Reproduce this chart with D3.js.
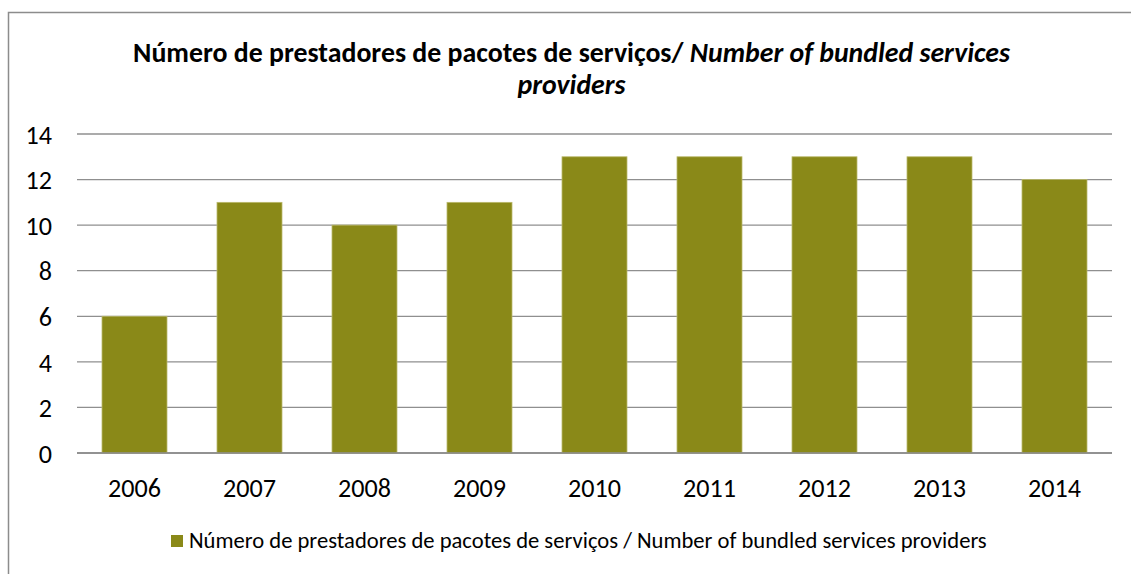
<!DOCTYPE html>
<html>
<head>
<meta charset="utf-8">
<script src="https://cdn.jsdelivr.net/npm/d3@7"></script>
<style>
  html, body { margin: 0; padding: 0; background: #fff; }
  svg { display: block; }
  text { font-family: Carlito, Lato, "Open Sans", sans-serif; fill: #000; }
</style>
</head>
<body>
<svg id="chart" width="1131" height="574"></svg>
<script>
// Yearly count of bundled-service providers
const years = ["2006", "2007", "2008", "2009", "2010", "2011", "2012", "2013", "2014"];
const providers = [6, 11, 10, 11, 13, 13, 13, 13, 12];
const yTicks = [0, 2, 4, 6, 8, 10, 12, 14];
const titleLine1Regular = "Número de prestadores de pacotes de serviços/ ";
const titleLine1Italic = "Number of bundled services";
const titleLine2Italic = "providers";
const legendLabel = "Número de prestadores de pacotes de serviços / Number of bundled services providers";

const W = 1131, H = 574;
const svg = d3.select("#chart");
const barColor = "#8a8918";
const fontStack = "Carlito, Lato, 'Open Sans', sans-serif";

// outer chart frame (extends past the right and bottom edges)
svg.append("rect")
  .attr("x", 8.5).attr("y", 12.5)
  .attr("width", W + 20).attr("height", H + 20)
  .attr("fill", "#fff").attr("stroke", "#8c8c8c").attr("stroke-width", 1.5);

const plot = { left: 77, right: 1112, top: 134, bottom: 453 };

const x = d3.scaleBand()
  .domain(years)
  .range([plot.left, plot.right])
  .paddingInner(0.435)
  .paddingOuter(0.2175);

const y = d3.scaleLinear()
  .domain([0, 14])
  .range([plot.bottom, plot.top]);

// horizontal gridlines
svg.append("g")
  .selectAll("line")
  .data(yTicks)
  .join("line")
  .attr("x1", plot.left).attr("x2", plot.right)
  .attr("y1", d => y(d)).attr("y2", d => y(d))
  .attr("stroke", "#8f8f8f")
  .attr("stroke-width", 1.3);

// bars
svg.append("g")
  .selectAll("rect")
  .data(years.map((yr, i) => ({ yr, v: providers[i] })))
  .join("rect")
  .attr("x", d => x(d.yr))
  .attr("y", d => y(d.v))
  .attr("width", x.bandwidth())
  .attr("height", d => y(0) - y(d.v))
  .attr("fill", barColor)
  .attr("stroke", "#b9b86a")
  .attr("stroke-width", 0.8);

// baseline redrawn on top
svg.append("line")
  .attr("x1", plot.left).attr("x2", plot.right)
  .attr("y1", y(0)).attr("y2", y(0))
  .attr("stroke", "#8a8a8a").attr("stroke-width", 1.6);

// pick a tick font size so that a four-digit year is about 53px wide
const probe = svg.append("text").style("font-size", "20px").style("font-family", fontStack).text("2006");
const probeW = probe.node().getComputedTextLength();
probe.remove();
const tickSize = probeW > 0 ? 20 * 53 / probeW : 22;

// y axis labels
const yAxis = d3.axisLeft(y).tickValues(yTicks).tickSize(0).tickPadding(0).tickFormat(d3.format("d"));
const gy = svg.append("g").attr("transform", `translate(52,0)`).call(yAxis);
gy.attr("font-size", null).attr("font-family", null);
gy.select(".domain").remove();
gy.selectAll("text")
  .style("font-size", tickSize + "px")
  .style("font-family", fontStack)
  .attr("fill", "#000")
  .attr("dy", "0.35em");

// x axis labels
const xAxis = d3.axisBottom(x).tickSize(0).tickPadding(0);
const gx = svg.append("g").attr("transform", `translate(0,${plot.bottom})`).call(xAxis);
gx.attr("font-size", null).attr("font-family", null);
gx.select(".domain").remove();
gx.selectAll("text")
  .style("font-size", tickSize + "px")
  .style("font-family", fontStack)
  .attr("fill", "#000")
  .attr("y", 44)
  .attr("dy", 0);

// title, two lines centered
const title = svg.append("g").attr("font-weight", "bold");
const t1 = title.append("text")
  .attr("x", W / 2 + 6).attr("y", 62)
  .attr("text-anchor", "middle")
  .attr("font-size", 21);
t1.append("tspan").text(titleLine1Regular);
t1.append("tspan").attr("font-style", "italic").text(titleLine1Italic);
const t2 = title.append("text")
  .attr("x", W / 2 + 6).attr("y", 94)
  .attr("text-anchor", "middle")
  .attr("font-size", 21)
  .attr("font-style", "italic")
  .text(titleLine2Italic);

// fit title width to the frame's proportions
const targetTitleWidth = 877;
const tw = t1.node().getComputedTextLength();
if (tw > 0) {
  const fs = 21 * targetTitleWidth / tw;
  t1.attr("font-size", fs);
  t2.attr("font-size", fs);
}

// legend
const legend = svg.append("g");
legend.append("rect")
  .attr("x", 171).attr("y", 535)
  .attr("width", 12).attr("height", 12)
  .attr("fill", barColor);
const lt = legend.append("text")
  .attr("x", 189).attr("y", 548)
  .attr("font-size", 16.5)
  .text(legendLabel);
const targetLegendWidth = 798;
const lw = lt.node().getComputedTextLength();
if (lw > 0) {
  lt.attr("font-size", 16.5 * targetLegendWidth / lw);
}
</script>
</body>
</html>
